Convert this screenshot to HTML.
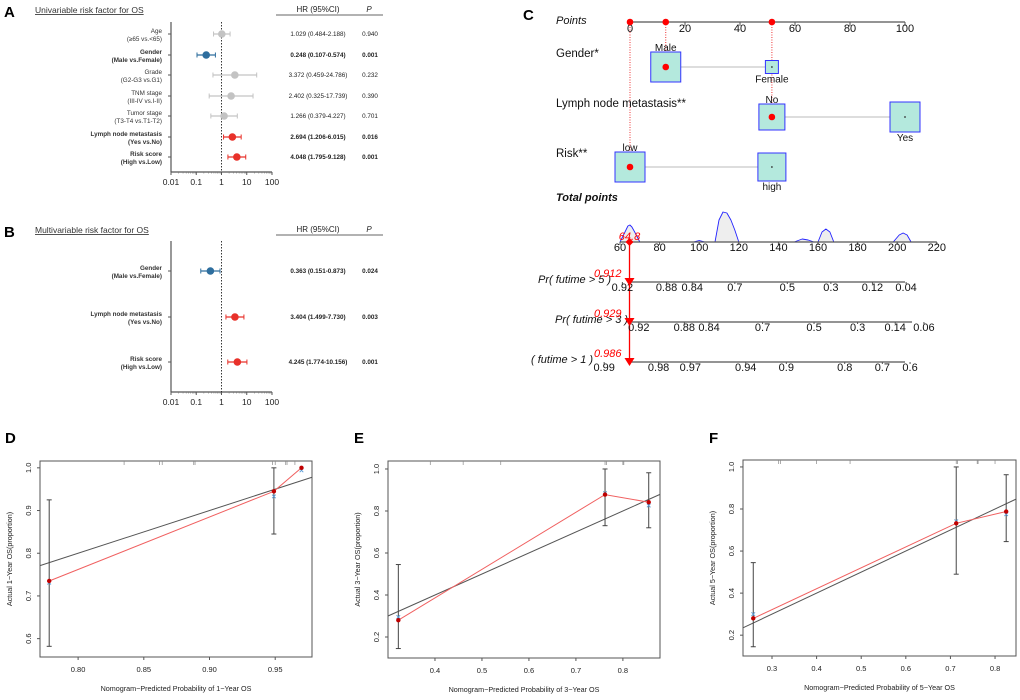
<!DOCTYPE html>
<html><head><meta charset="utf-8"><style>
html,body{margin:0;padding:0;background:#fff;width:1020px;height:700px;overflow:hidden}
svg{display:block;font-family:"Liberation Sans",Arial,sans-serif}
</style></head><body>
<svg id="fig" width="1020" height="700" viewBox="0 0 1020 700"></svg>
<script>
// ---------- Forest plot data ----------
const uniLabels1 = ["Age","Gender","Grade","TNM stage","Tumor stage","Lymph node metastasis","Risk score"];
const uniLabels2 = ["(≥65 vs.<65)","(Male vs.Female)","(G2-G3 vs.G1)","(III-IV vs.I-II)","(T3-T4 vs.T1-T2)","(Yes vs.No)","(High vs.Low)"];
const uniHR = [1.029,0.248,3.372,2.402,1.266,2.694,4.048];
const uniLo = [0.484,0.107,0.459,0.325,0.379,1.206,1.795];
const uniHi = [2.188,0.574,24.786,17.739,4.227,6.015,9.128];
const uniP = ["0.940","0.001","0.232","0.390","0.701","0.016","0.001"];
const uniSig = [0,1,0,0,0,1,1];
const uniDir = [0,-1,0,0,0,1,1];
const multiLabels1 = ["Gender","Lymph node metastasis","Risk score"];
const multiLabels2 = ["(Male vs.Female)","(Yes vs.No)","(High vs.Low)"];
const multiHR = [0.363,3.404,4.245];
const multiLo = [0.151,1.499,1.774];
const multiHi = [0.873,7.730,10.156];
const multiP = ["0.024","0.003","0.001"];
const multiDir = [-1,1,1];
const logTicks = [0.01,0.1,1,10,100];
const logTickLabels = ["0.01","0.1","1","10","100"];

// ---------- Nomogram data ----------
const pointTicks = [0,20,40,60,80,100];
const genderLevels = ["Male","Female"]; const genderPts = [13,51.6]; const genderSize=[30,13];
const lymphLevels = ["No","Yes"]; const lymphPts = [51.6,100]; const lymphSize=[26,30];
const riskLevels = ["low","high"]; const riskPts = [0,51.6]; const riskSize=[30,28];
const patientPts = [0,13,51.6];
const totalTicks = [60,80,100,120,140,160,180,200,220];
const densityX = [60,62,64,65,66,68,70, 97,100,103, 108,110,112,114,116,118,120, 148,152,155,158, 160,162,164,166,168, 198,201,203,205,207];
const densityH = [0,8,16,17,15,8,0, 0,1.5,0, 0,22,30,29,22,12,0, 0,3,2,0, 0,10,13,10,0, 0,7,9,7,0];
const totalPatient = 64.8;
const surv5Labels = ["0.92","0.88","0.84","0.7","0.5","0.3","0.12","0.04"];
const surv5Pos = [61.2,83.5,96.5,118,144.5,166.5,187.5,204.5];
const surv3Labels = ["0.92","0.88","0.84","0.7","0.5","0.3","0.14","0.06"];
const surv3Pos = [69.5,92.5,105,132,158,180,199,213.5];
const surv1Labels = ["0.99","0.98","0.97","0.94","0.9","0.8","0.7","0.6"];
const surv1Pos = [52,79.5,95.5,123.5,144,173.5,192.5,206.5];
const survPred = ["0.912","0.929","0.986"];

// ---------- Calibration data ----------
const cal1X=[0.778,0.949,0.970], cal1Y=[0.735,0.945,1.0], cal1Lo=[0.582,0.845,null], cal1Hi=[0.925,1.0,null], cal1B=[0.731,0.933,0.994];
const cal3X=[0.322,0.762,0.855], cal3Y=[0.28,0.878,0.842], cal3Lo=[0.145,0.73,0.72], cal3Hi=[0.545,1.0,0.982], cal3B=[0.295,0.885,0.826];
const cal5X=[0.258,0.713,0.825], cal5Y=[0.28,0.732,0.788], cal5Lo=[0.145,0.49,0.645], cal5Hi=[0.545,1.0,0.963], cal5B=[0.30,0.742,0.775];
const cal1XT=[0.80,0.85,0.90,0.95], cal1XL=["0.80","0.85","0.90","0.95"], cal1YT=[0.6,0.7,0.8,0.9,1.0], cal1YL=["0.6","0.7","0.8","0.9","1.0"];
const cal3XT=[0.4,0.5,0.6,0.7,0.8], cal3XL=["0.4","0.5","0.6","0.7","0.8"], cal3YT=[0.2,0.4,0.6,0.8,1.0], cal3YL=["0.2","0.4","0.6","0.8","1.0"];
const cal5XT=[0.3,0.4,0.5,0.6,0.7,0.8], cal5XL=["0.3","0.4","0.5","0.6","0.7","0.8"], cal5YT=[0.2,0.4,0.6,0.8,1.0], cal5YL=["0.2","0.4","0.6","0.8","1.0"];
const cal1Rug=[0.835,0.862,0.864,0.888,0.889,0.948,0.950,0.958,0.959,0.965];
const cal3Rug=[0.39,0.46,0.54,0.762,0.765,0.8,0.802];
const cal5Rug=[0.315,0.319,0.40,0.475,0.713,0.716,0.76,0.762,0.8];

const NS="http://www.w3.org/2000/svg";
const svg=document.getElementById('fig');
function mk(tag,attrs,parent,txt){const e=document.createElementNS(NS,tag);for(const k in attrs)e.setAttribute(k,attrs[k]);if(txt!==undefined)e.textContent=txt;(parent||svg).appendChild(e);return e;}
function grp(name,parent){const g=mk('g',{},parent);return g;}

// ---------- Forest ----------
function forest(g,opt){
  const {letter,title,top,axisTop,axisBot,rowsY,l1,l2,hr,lo,hi,p,dir,sig}=opt;
  const x0=171, dec=25.25;
  const sx=v=>x0+(Math.log10(v)+2)*dec;
  let t=mk('text',{x:4,y:top+6,'font-size':15,'font-weight':'bold'},g,letter);  
  t=mk('text',{x:35,y:top+2,'font-size':8.5,fill:'#333','text-decoration':'underline'},g,title);  
  t=mk('text',{x:318,y:top+1,'font-size':8,'text-anchor':'middle',fill:'#222'},g,'HR (95%CI)');  
  t=mk('text',{x:369,y:top+1,'font-size':8,'font-style':'italic','text-anchor':'middle',fill:'#222'},g,'P');  
  mk('line',{x1:276,x2:383,y1:top+4,y2:top+4,stroke:'#333','stroke-width':0.8},g);
  mk('line',{x1:x0,x2:x0,y1:axisTop,y2:axisBot,stroke:'#555','stroke-width':1.2},g);
  mk('line',{x1:x0,x2:sx(100),y1:axisBot,y2:axisBot,stroke:'#555','stroke-width':1.2},g);
  mk('line',{x1:sx(1),x2:sx(1),y1:axisTop,y2:axisBot,stroke:'#222','stroke-width':0.9,'stroke-dasharray':'1.5,1.5'},g);
  logTicks.forEach((v,i)=>{
    mk('line',{x1:sx(v),x2:sx(v),y1:axisBot,y2:axisBot+3,stroke:'#555'},g);
    if(i<logTicks.length-1) for(let k=2;k<10;k++){const xx=sx(v*k);mk('line',{x1:xx,x2:xx,y1:axisBot,y2:axisBot+1.5,stroke:'#777','stroke-width':0.6},g);}
    const tl=mk('text',{x:sx(v),y:axisBot+13,'font-size':8.5,'text-anchor':'middle',fill:'#222'},g,logTickLabels[i]);
     
  });
  hr.forEach((v,i)=>{
    const y=rowsY[i]; const bold=sig[i]?'bold':'normal';
    const col=dir[i]<0?'#2e6e9e':dir[i]>0?'#e8312a':'#c3c3c3';
    mk('line',{x1:x0-3,x2:x0,y1:y,y2:y,stroke:'#555'},g);
    let a=mk('text',{x:162,y:y-1,'font-size':6.3,'font-weight':bold,'text-anchor':'end',fill:'#333'},g,l1[i]);  
    a=mk('text',{x:162,y:y+7,'font-size':6.3,'font-weight':bold,'text-anchor':'end',fill:'#333'},g,l2[i]);  
    const ci=grp('hr-ci-'+i,g);
    mk('line',{x1:sx(lo[i]),x2:sx(hi[i]),y1:y,y2:y,stroke:col,'stroke-width':1.3},ci);
    mk('line',{x1:sx(lo[i]),x2:sx(lo[i]),y1:y-2.5,y2:y+2.5,stroke:col,'stroke-width':1},ci);
    mk('line',{x1:sx(hi[i]),x2:sx(hi[i]),y1:y-2.5,y2:y+2.5,stroke:col,'stroke-width':1},ci);
    const c=mk('circle',{cx:sx(v),cy:y,r:3.8,fill:col},ci);  
    a=mk('text',{x:318,y:y+2,'font-size':6.3,'font-weight':bold,'text-anchor':'middle',fill:'#222'},g,v.toFixed(3)+' ('+lo[i].toFixed(3)+'-'+hi[i].toFixed(3)+')');  
    a=mk('text',{x:370,y:y+2,'font-size':6.3,'font-weight':bold,'text-anchor':'middle',fill:'#222'},g,p[i]);  
  });
}
forest(grp('forest-univariable'),{letter:'A',title:'Univariable risk factor for OS',top:11,axisTop:22,axisBot:172,rowsY:[34,55,75,96,116,137,157],l1:uniLabels1,l2:uniLabels2,hr:uniHR,lo:uniLo,hi:uniHi,p:uniP,dir:uniDir,sig:uniSig});
forest(grp('forest-multivariable'),{letter:'B',title:'Multivariable risk factor for OS',top:231,axisTop:241,axisBot:392,rowsY:[271,317,362],l1:multiLabels1,l2:multiLabels2,hr:multiHR,lo:multiLo,hi:multiHi,p:multiP,dir:multiDir,sig:[1,1,1]});

// ---------- Nomogram ----------
(function(){
  const g=grp('nomogram');
  const px=v=>630+v*2.75;
  const tx=v=>620+(v-60)*1.98;
  let t=mk('text',{x:523,y:20,'font-size':15,'font-weight':'bold'},g,'C');  
  const lab=(x,y,s,extra,name)=>{const e=mk('text',Object.assign({x:x,y:y,'font-size':11.5,fill:'#111'},extra||{}),g,s);return e;};
  lab(556,24,'Points',{'font-style':'italic','font-size':11},'points-label');
  mk('line',{x1:px(0),x2:px(100),y1:22,y2:22,stroke:'#555','stroke-width':1.3},g);
  pointTicks.forEach(v=>{mk('line',{x1:px(v),x2:px(v),y1:22,y2:26,stroke:'#555'},g);lab(px(v),32,String(v),{'text-anchor':'middle','font-size':11},'points-tick');});
  mk('line',{x1:px(0),x2:px(0),y1:22,y2:168,stroke:'#e33','stroke-dasharray':'1,1.5'},g);
  mk('line',{x1:px(13),x2:px(13),y1:22,y2:67,stroke:'#e33','stroke-dasharray':'1,1.5'},g);
  mk('line',{x1:px(51.6),x2:px(51.6),y1:22,y2:117,stroke:'#e33','stroke-dasharray':'1,1.5'},g);
  patientPts.forEach(v=>{const c=mk('circle',{cx:px(v),cy:22,r:3.3,fill:'#f00'},g);});
  function row(name,y,levels,pts,sizes,labelPos,selIdx){
    lab(556,y-10,name,{},'variable-label');
    mk('line',{x1:px(pts[0]),x2:px(pts[1]),y1:y,y2:y,stroke:'#bbb','stroke-width':1},g);
    pts.forEach((v,i)=>{
      const s=sizes[i];
      const r=mk('rect',{x:px(v)-s/2,y:y-s/2,width:s,height:s,fill:'#b4e9dd',stroke:'#3333ff','stroke-width':1},g);
      
      mk('circle',{cx:px(v),cy:y,r:0.9,fill:'#333'},g);
      const ly=labelPos[i]<0?y-s/2-1:y+s/2+9;
      lab(px(v),ly,levels[i],{'text-anchor':'middle','font-size':10},'level-label');
    });
    const c=mk('circle',{cx:px(pts[selIdx]),cy:y,r:3.3,fill:'#f00'},g);
  }
  row('Gender*',67,genderLevels,genderPts,genderSize,[-1,1],0);
  row('Lymph node metastasis**',117,lymphLevels,lymphPts,lymphSize,[-1,1],0);
  row('Risk**',167,riskLevels,riskPts,riskSize,[-1,1],0);
  lab(556,201,'Total points',{'font-style':'italic','font-weight':'bold','font-size':11},'total-points-label');
  let d='';
  densityX.forEach((v,i)=>{d+=(i===0?'M':'L')+tx(v).toFixed(1)+','+(242-densityH[i]).toFixed(1);});
  let pth=mk('path',{d:d,fill:'#eee',stroke:'#22f','stroke-width':0.9,'stroke-linejoin':'round'},g);
  mk('line',{x1:tx(60),x2:tx(220),y1:242,y2:242,stroke:'#555','stroke-width':1.3},g);
  totalTicks.forEach(v=>{mk('line',{x1:tx(v),x2:tx(v),y1:242,y2:245,stroke:'#555'},g);lab(tx(v),251,String(v),{'text-anchor':'middle','font-size':11},'total-tick');});
  const xp=tx(totalPatient);
  lab(xp,240,String(totalPatient),{'text-anchor':'middle','font-size':11,'font-style':'italic',fill:'#f00'},'total-points-value');
  mk('path',{d:`M${xp-4},242 L${xp},238 L${xp+4},242 L${xp},246 Z`,fill:'#f00'},g);
  mk('line',{x1:xp,x2:xp,y1:242,y2:358,stroke:'#f00','stroke-width':1.3},g);
  function surv(y,label,lx,pos,labels,pred,lineEnd){
    lab(lx,y+1,label,{'font-style':'italic','font-size':11},'survival-label');
    mk('line',{x1:tx(64),x2:lineEnd,y1:y,y2:y,stroke:'#555','stroke-width':1.3},g);
    pos.forEach((v,i)=>{mk('line',{x1:tx(v),x2:tx(v),y1:y,y2:y+2,stroke:'#555'},g);lab(tx(v),y+9,labels[i],{'text-anchor':'middle','font-size':11},'survival-tick');});
    lab(xp-8,y-5,pred,{'text-anchor':'end','font-size':11,'font-style':'italic',fill:'#f00'},'predicted-survival');
    const tri=mk('path',{d:`M${xp-5},${y-4} L${xp+5},${y-4} L${xp},${y+4} Z`,fill:'#f00'},g);
  }
  surv(282,'Pr( futime > 5 )',538,surv5Pos,surv5Labels,survPred[0],905);
  surv(322,'Pr( futime > 3 )',555,surv3Pos,surv3Labels,survPred[1],912);
  surv(362,'( futime > 1 )',531,surv1Pos,surv1Labels,survPred[2],905);
})();

// ---------- Calibration ----------
function calib(name,o){
  const g=grp(name);
  const sx=v=>o.bx0+(v-o.xmin)/(o.xmax-o.xmin)*(o.bx1-o.bx0);
  const sy=v=>o.by1-(v-o.ymin)/(o.ymax-o.ymin)*(o.by1-o.by0);
  let t=mk('text',{x:o.lx,y:443,'font-size':15,'font-weight':'bold'},g,o.letter);
  mk('rect',{x:o.bx0,y:o.by0,width:o.bx1-o.bx0,height:o.by1-o.by0,fill:'none',stroke:'#555','stroke-width':1},g);
  o.xt.forEach((v,i)=>{mk('line',{x1:sx(v),x2:sx(v),y1:o.by1,y2:o.by1+3,stroke:'#555'},g);const e=mk('text',{x:sx(v),y:o.by1+15,'font-size':7.5,'text-anchor':'middle',fill:'#222'},g,o.xl[i]);});
  o.yt.forEach((v,i)=>{mk('line',{x1:o.bx0-3,x2:o.bx0,y1:sy(v),y2:sy(v),stroke:'#555'},g);const e=mk('text',{x:o.bx0-9,y:sy(v),'font-size':7.5,'text-anchor':'middle',fill:'#222',transform:`rotate(-90 ${o.bx0-9} ${sy(v)})`},g,o.yl[i]);});
  const xc=(o.bx0+o.bx1)/2, yc=(o.by0+o.by1)/2;
  t=mk('text',{x:xc,y:o.by1+34,'font-size':7.2,'text-anchor':'middle',fill:'#222'},g,o.xtitle);
  t=mk('text',{x:o.bx0-28,y:yc,'font-size':7.2,'text-anchor':'middle',fill:'#222',transform:`rotate(-90 ${o.bx0-28} ${yc})`},g,o.ytitle);
  o.rug.forEach(v=>mk('line',{x1:sx(v),x2:sx(v),y1:o.by0,y2:o.by0+4,stroke:'#888','stroke-width':0.7},g));
  const lo=Math.max(o.xmin,o.ymin), hi=Math.min(o.xmax,o.ymax);
  const ideal=mk('line',{x1:sx(lo),y1:sy(lo),x2:sx(hi),y2:sy(hi),stroke:'#555','stroke-width':1},g);
  const pts=o.X.map((v,i)=>sx(v).toFixed(1)+','+sy(o.Y[i]).toFixed(1)).join(' ');
  const pl=mk('polyline',{points:pts,fill:'none',stroke:'#f06060','stroke-width':1},g);
  o.X.forEach((v,i)=>{
    const x=sx(v);
    if(o.Lo[i]!==null){
      const eb=grp('error-bar',g);
      mk('line',{x1:x,x2:x,y1:sy(o.Lo[i]),y2:sy(o.Hi[i]),stroke:'#444','stroke-width':1},eb);
      mk('line',{x1:x-2.5,x2:x+2.5,y1:sy(o.Lo[i]),y2:sy(o.Lo[i]),stroke:'#444'},eb);
      mk('line',{x1:x-2.5,x2:x+2.5,y1:sy(o.Hi[i]),y2:sy(o.Hi[i]),stroke:'#444'},eb);
    }
    const by=sy(o.B[i]);
    mk('path',{d:`M${x-1.8},${by-1.8}L${x+1.8},${by+1.8}M${x-1.8},${by+1.8}L${x+1.8},${by-1.8}`,stroke:'#5b9bd5','stroke-width':0.9},g);
    const c=mk('circle',{cx:x,cy:sy(o.Y[i]),r:2.2,fill:'#c00000'},g);
  });
}
calib('calibration-1-year',{letter:'D',lx:5,bx0:40,bx1:312,by0:461,by1:657,xmin:0.771,xmax:0.978,ymin:0.557,ymax:1.016,X:cal1X,Y:cal1Y,Lo:cal1Lo,Hi:cal1Hi,B:cal1B,xt:cal1XT,xl:cal1XL,yt:cal1YT,yl:cal1YL,rug:cal1Rug,xtitle:'Nomogram−Predicted Probability of 1−Year OS',ytitle:'Actual 1−Year OS(proportion)'});
calib('calibration-3-year',{letter:'E',lx:354,bx0:388,bx1:660,by0:461,by1:658,xmin:0.30,xmax:0.879,ymin:0.1,ymax:1.038,X:cal3X,Y:cal3Y,Lo:cal3Lo,Hi:cal3Hi,B:cal3B,xt:cal3XT,xl:cal3XL,yt:cal3YT,yl:cal3YL,rug:cal3Rug,xtitle:'Nomogram−Predicted Probability of 3−Year OS',ytitle:'Actual 3−Year OS(proportion)'});
calib('calibration-5-year',{letter:'F',lx:709,bx0:743,bx1:1016,by0:460,by1:656,xmin:0.235,xmax:0.847,ymin:0.101,ymax:1.033,X:cal5X,Y:cal5Y,Lo:cal5Lo,Hi:cal5Hi,B:cal5B,xt:cal5XT,xl:cal5XL,yt:cal5YT,yl:cal5YL,rug:cal5Rug,xtitle:'Nomogram−Predicted Probability of 5−Year OS',ytitle:'Actual 5−Year OS(proportion)'});
</script>
</body></html>
